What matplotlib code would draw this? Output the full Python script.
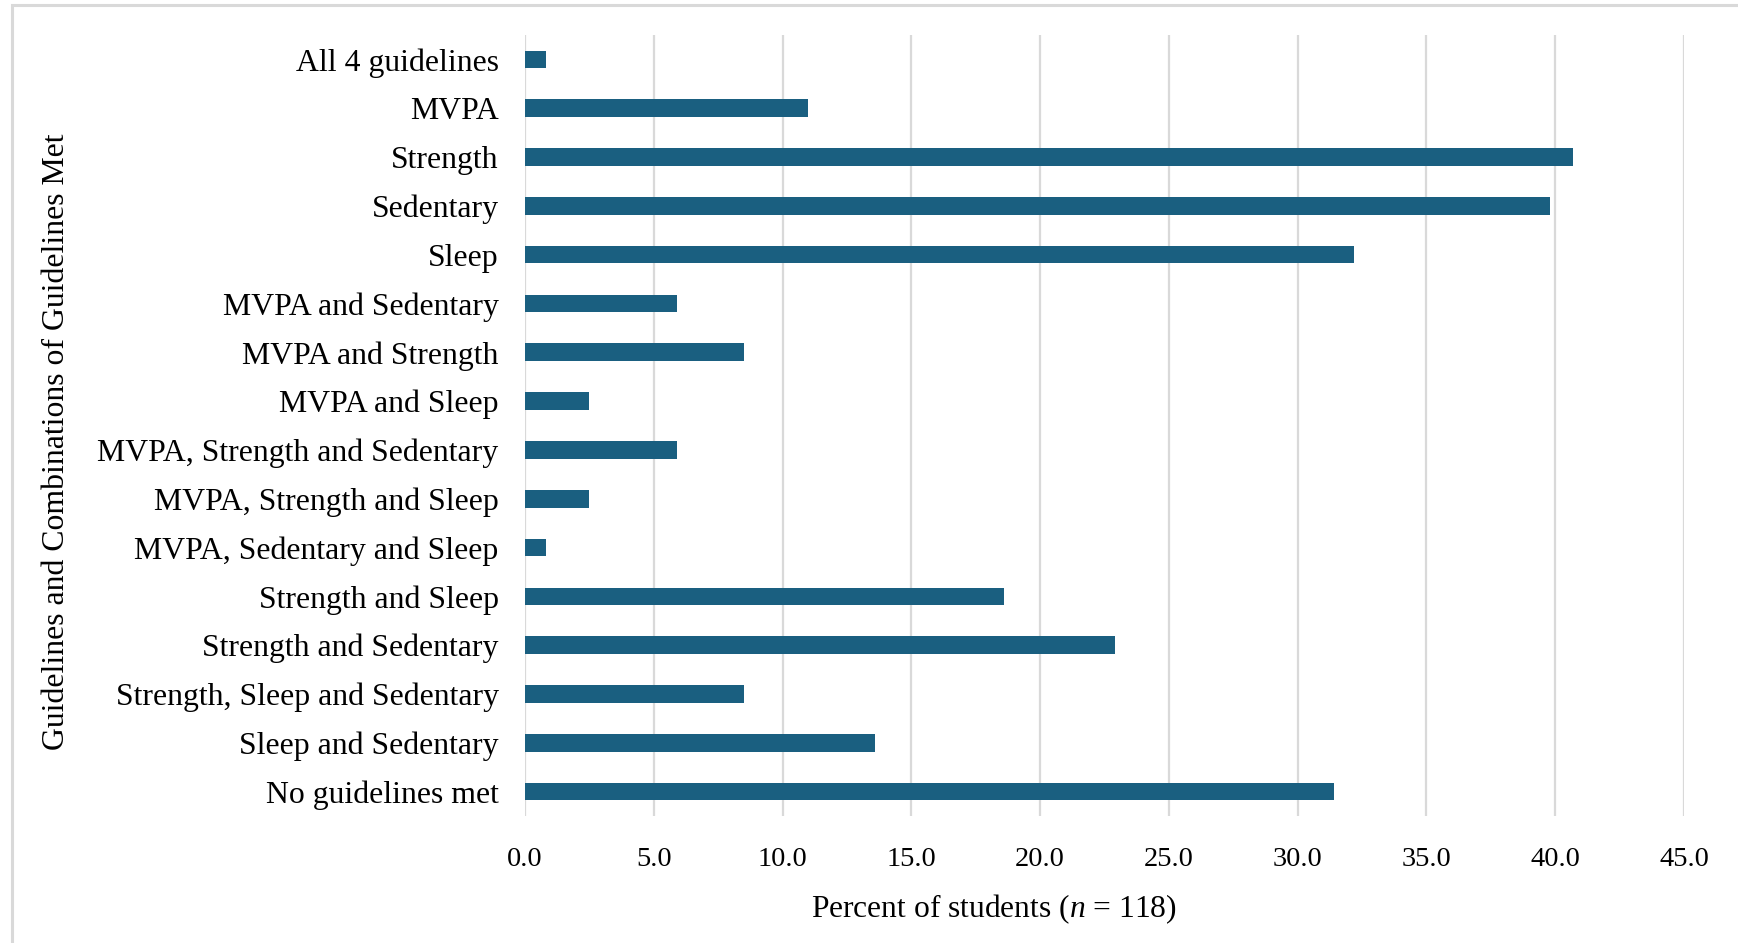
import matplotlib.pyplot as plt
from matplotlib.patches import Rectangle

categories = [
    "All 4 guidelines",
    "MVPA",
    "Strength",
    "Sedentary",
    "Sleep",
    "MVPA and Sedentary",
    "MVPA and Strength",
    "MVPA and Sleep",
    "MVPA, Strength and Sedentary",
    "MVPA, Strength and Sleep",
    "MVPA, Sedentary and Sleep",
    "Strength and Sleep",
    "Strength and Sedentary",
    "Strength, Sleep and Sedentary",
    "Sleep and Sedentary",
    "No guidelines met",
]
percent = [0.8, 11.0, 40.7, 39.8, 32.2, 5.9, 8.5, 2.5, 5.9, 2.5, 0.8, 18.6, 22.9, 8.5, 13.6, 31.4]
xticks = [0, 5, 10, 15, 20, 25, 30, 35, 40, 45]

plt.rcParams['font.family'] = ['Liberation Serif', 'DejaVu Serif']
plt.rcParams['mathtext.fontset'] = 'custom'
plt.rcParams['mathtext.rm'] = 'Liberation Serif'
plt.rcParams['mathtext.it'] = 'Liberation Serif:italic'

W, H = 1738, 943
fig = plt.figure(figsize=(W / 100, H / 100), dpi=100)

# chart frame (runs off the right and bottom edges)
fig.patches.append(Rectangle((12 / W, -0.05), 1.1, 1 - 5 / H + 0.05,
                             transform=fig.transFigure, fill=False,
                             edgecolor='#d9d9d9', linewidth=2.2))

ax = fig.add_axes([525 / W, 1 - 816 / H, (1684 - 525) / W, (816 - 35) / H])

ypos = list(range(len(categories)))
ax.barh(ypos, percent, height=0.36, color='#1a5f80', zorder=3)

ax.set_xlim(0, 45)
ax.set_ylim(len(categories) - 0.5, -0.5)
ax.set_xticks(xticks)
ax.set_xticklabels([f"{v:.1f}" for v in xticks], fontsize=20.5)
ax.set_yticks(ypos)
ax.set_yticklabels(categories, fontsize=22.9)
ax.tick_params(axis='x', length=0, pad=22)
ax.tick_params(axis='y', length=0, pad=19)

ax.grid(axis='x', color='#d9d9d9', linewidth=1.6, zorder=0)
for s in ax.spines.values():
    s.set_visible(False)

fig.text(994 / W, 1 - 909 / H, r"Percent of students ($\it{n}$ = 118)",
         ha='center', va='center', fontsize=22.7)
fig.text(57 / W, 1 - 442 / H, "Guidelines and Combinations of Guidelines Met",
         ha='center', va='center', rotation=90, fontsize=22.9)

fig.savefig("out.png", dpi=100)
